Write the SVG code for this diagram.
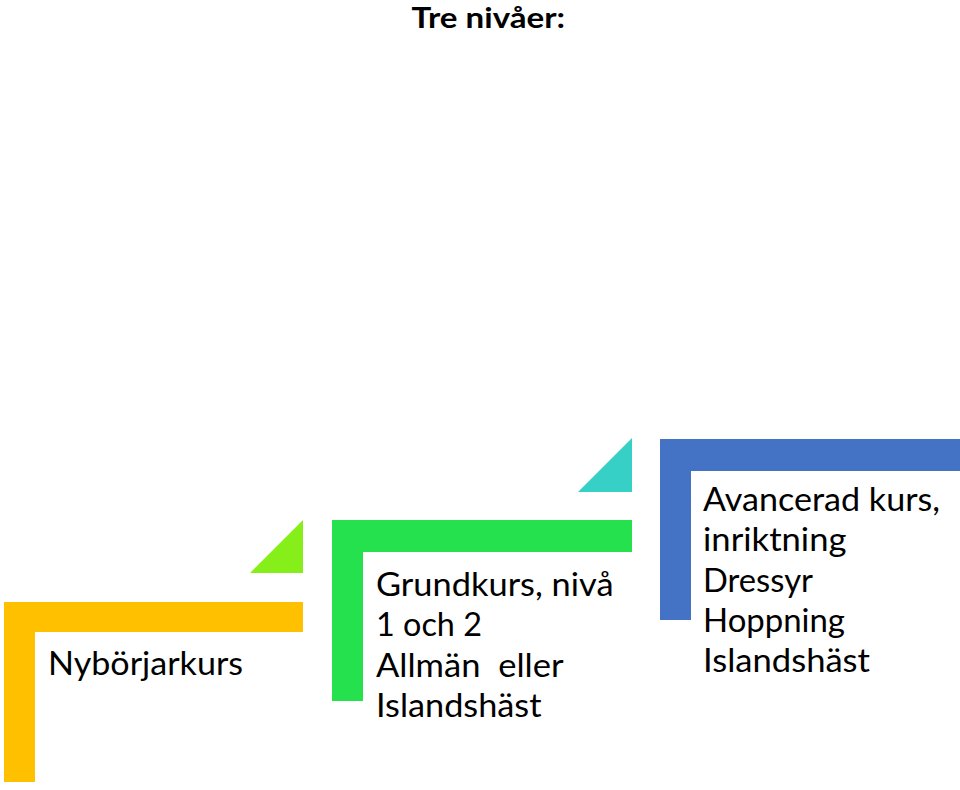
<svg xmlns="http://www.w3.org/2000/svg" width="960" height="790" viewBox="0 0 960 790">
<style>
  .t{font-family:Lato,"Liberation Sans",sans-serif;font-size:33px;fill:#000}
  .title{font-family:Lato,"Liberation Sans",sans-serif;font-size:28.5px;font-weight:bold;fill:#000}
</style>
<rect width="960" height="790" fill="#fff"/>
<g id="title">
  <text class="title" x="411.5" y="28.3" textLength="153.5" lengthAdjust="spacingAndGlyphs">Tre nivåer:</text>
</g>
<g id="step1">
  <path d="M4,602 H303 V632 H35 V782 H4 Z" fill="#FFC000"/>
  <text class="t" x="48" y="675" textLength="195" lengthAdjust="spacingAndGlyphs">Nybörjarkurs</text>
</g>
<g id="arrow1">
  <polygon points="250,573 303,520 303,573" fill="#86EE18"/>
</g>
<g id="step2">
  <path d="M332,520 H632 V552 H363 V701 H332 Z" fill="#26E14E"/>
  <text class="t" x="376" y="596" textLength="237.5" lengthAdjust="spacingAndGlyphs">Grundkurs, nivå</text>
  <text class="t" x="376" y="636.3" textLength="106" lengthAdjust="spacingAndGlyphs">1 och 2</text>
  <text class="t" x="376" y="676.6" textLength="187.5" lengthAdjust="spacingAndGlyphs" xml:space="preserve">Allmän  eller</text>
  <text class="t" x="376" y="717" textLength="165.5" lengthAdjust="spacingAndGlyphs">Islandshäst</text>
</g>
<g id="arrow2">
  <polygon points="578,492 632,438 632,492" fill="#36D0C6"/>
</g>
<g id="step3">
  <path d="M660,439 H960 V471 H691 V620 H660 Z" fill="#4472C4"/>
  <text class="t" x="703" y="511" textLength="237" lengthAdjust="spacingAndGlyphs">Avancerad kurs,</text>
  <text class="t" x="703" y="551.3" textLength="143.5" lengthAdjust="spacingAndGlyphs">inriktning</text>
  <text class="t" x="703" y="591.6" textLength="110" lengthAdjust="spacingAndGlyphs">Dressyr</text>
  <text class="t" x="703" y="632" textLength="142" lengthAdjust="spacingAndGlyphs">Hoppning</text>
  <text class="t" x="703" y="672" textLength="167" lengthAdjust="spacingAndGlyphs">Islandshäst</text>
</g>
<g id="connectors"></g>
</svg>
